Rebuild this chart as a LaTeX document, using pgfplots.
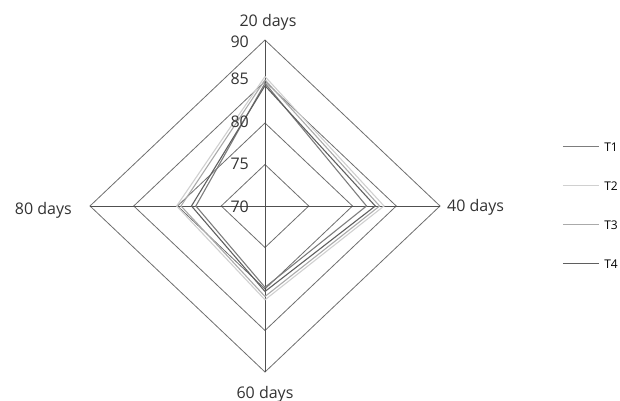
\documentclass[border=0pt]{standalone}
\usepackage{fontspec}
\setmainfont{Open Sans}
\usepackage{pgfplots}
\pgfplotsset{compat=1.18}
\usepackage{pgfplotstable}

\definecolor{ringc}{RGB}{110,110,110}
\definecolor{spokec}{RGB}{80,80,80}
\definecolor{tone}{RGB}{125,125,125}
\definecolor{ttwo}{RGB}{208,208,208}
\definecolor{tthree}{RGB}{170,170,170}
\definecolor{tfour}{RGB}{95,95,95}

% radial value per direction (90 = 20 days, 0 = 40 days, 270 = 60 days, 180 = 80 days)
\pgfplotstableread{
dir T1   T2   T3   T4
90  84.8 85.6 85.2 84.5
0   81.6 83.6 83.1 82.6
270 79.8 81.3 80.9 80.3
180 77.9 80.1 79.6 78.4
90  84.8 85.6 85.2 84.5
}\radar

\pgfplotstableread{
dir r1 r2 r3 r4
90  75 80 85 90
0   75 80 85 90
270 75 80 85 90
180 75 80 85 90
90  75 80 85 90
}\rings

\newcommand{\rx}[1]{(\thisrow{#1}-70)*cos(\thisrow{dir})}
\newcommand{\ry}[1]{(\thisrow{#1}-70)*sin(\thisrow{dir})}

\begin{document}
\begin{tikzpicture}
\begin{axis}[
    at={(265bp,195bp)}, anchor=center,
    scale only axis, width=350bp, height=332bp,
    xmin=-20, xmax=20, ymin=-20, ymax=20,
    hide axis, clip=false,
    legend cell align=left,
    legend image code/.code={\draw[#1] (0bp,1.5bp) -- (36bp,1.5bp);},
    legend style={at={(1.3486,0.693)}, anchor=north west, draw=none, fill=none,
        inner sep=0pt, font=\fontsize{12bp}{14bp}\selectfont,
        nodes={inner sep=0pt, text height=9bp, text depth=2bp},
        row sep=28bp,
        /tikz/every odd column/.append style={column sep=5bp}},
]
% grid rings and spokes
\foreach \r in {r1,r2,r3,r4}{
  \addplot[ringc, line width=0.8bp, forget plot] table[x expr={\rx{\r}}, y expr={\ry{\r}}] {\rings};
}
\addplot[spokec, line width=0.9bp, forget plot] coordinates {(-20,0) (20,0)};
\addplot[spokec, line width=0.9bp, forget plot] coordinates {(0,-20) (0,20)};

% series
\addplot[tone, line width=1.1bp] table[x expr={\rx{T1}}, y expr={\ry{T1}}] {\radar};
\addlegendentry{T1}
\addplot[ttwo, line width=1.1bp] table[x expr={\rx{T2}}, y expr={\ry{T2}}] {\radar};
\addlegendentry{T2}
\addplot[tthree, line width=1.1bp] table[x expr={\rx{T3}}, y expr={\ry{T3}}] {\radar};
\addlegendentry{T3}
\addplot[tfour, line width=1.1bp] table[x expr={\rx{T4}}, y expr={\ry{T4}}] {\radar};
\addlegendentry{T4}
\end{axis}

% category labels
\begin{scope}[every node/.style={inner sep=0pt, text=black!80, font=\fontsize{16bp}{19bp}\selectfont}]
\node[anchor=base] at (268bp,374bp) {20 days};
\node[anchor=base west] at (447bp,189bp) {40 days};
\node[anchor=base] at (265bp,3bp) {60 days};
\node[anchor=base east] at (72bp,186bp) {80 days};
% radial tick labels
\node[anchor=base east] at (249bp,353bp) {90};
\node[anchor=base east] at (249bp,316bp) {85};
\node[anchor=base east] at (249bp,273bp) {80};
\node[anchor=base east] at (249bp,231bp) {75};
\node[anchor=base east] at (249bp,188bp) {70};
\end{scope}

\pgfresetboundingbox
\useasboundingbox (0,0) rectangle (620bp,401bp);
\end{tikzpicture}
\end{document}
